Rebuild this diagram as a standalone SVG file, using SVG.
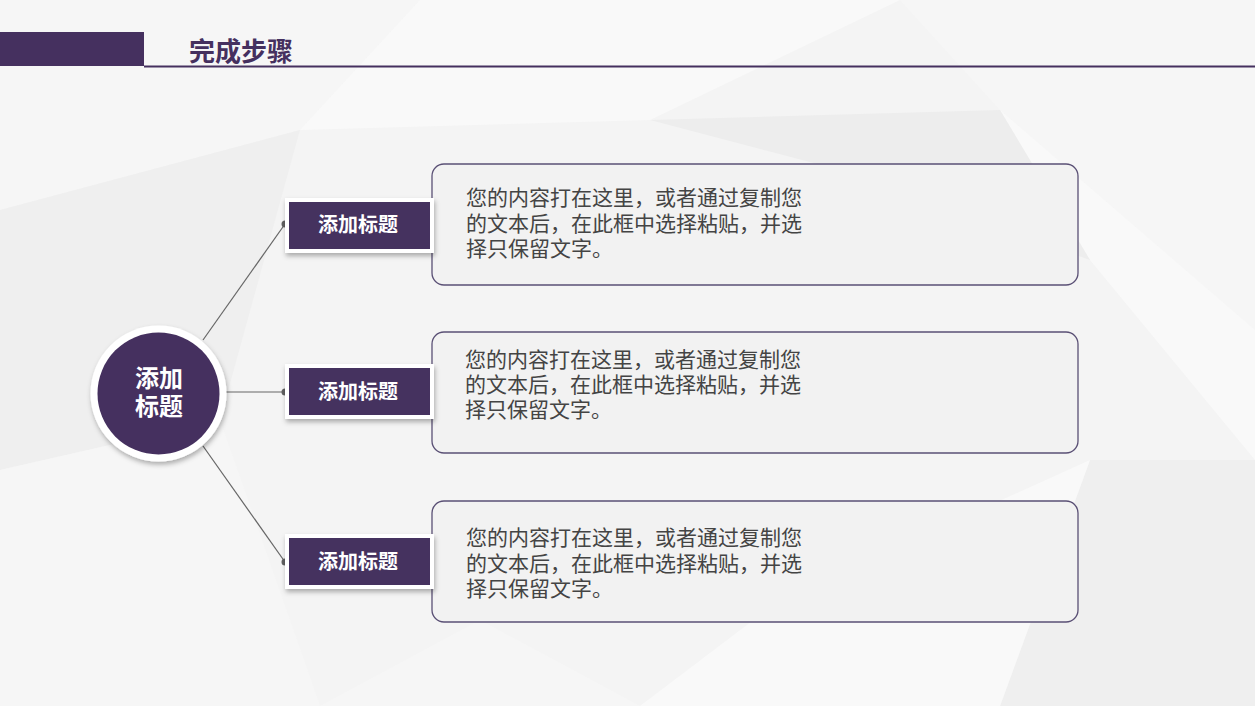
<svg xmlns="http://www.w3.org/2000/svg" width="1255" height="706" viewBox="0 0 1255 706">
<defs>
<style>
.bg1{fill:#efefef}.bg2{fill:#f6f6f6}.bg3{fill:#f9f9f9}.bg4{fill:#ededed}
.conn{stroke:#666;stroke-width:1.2;fill:none}
.dot{fill:#5f5f5f}
.lbl{fill:#45305f;stroke:#fff;stroke-width:4}
.lbltxt{font-family:"Noto Sans CJK SC",sans-serif;font-weight:bold;font-size:20px;fill:#fff;text-anchor:middle}
.box{fill:#f2f2f2;stroke:#5a5075;stroke-width:1.3}
.body{font-family:"Noto Sans CJK SC",sans-serif;font-size:21px;fill:#444}
</style>
<filter id="sh" x="-20%" y="-20%" width="140%" height="150%">
<feDropShadow dx="1" dy="3" stdDeviation="2.5" flood-color="#000" flood-opacity="0.3"/>
</filter>
</defs>
<g id="background">
<rect width="1255" height="706" fill="#f4f4f4"/>
<polygon class="bg2" points="0,0 420,0 300,130 0,210"/>
<polygon class="bg3" points="420,0 900,0 650,120 300,130"/>
<polygon class="bg1" points="0,210 300,130 220,420 0,470"/>
<polygon class="bg2" points="900,0 1255,0 1255,330 1000,110"/>
<polygon class="bg3" points="1000,110 1255,330 1255,460 1090,260"/>
<polygon class="bg4" points="650,120 1000,110 1090,260 840,170"/>
<polygon class="bg2" points="0,470 220,420 320,706 0,706"/>
<polygon class="bg1" points="1090,460 1255,460 1255,706 1000,706"/>
<polygon class="bg3" points="780,600 1090,460 1000,706 640,706"/>
<polygon class="bg2" points="320,706 640,706 480,620"/>
</g>
<g id="header">
<rect x="0" y="32" width="144" height="34" fill="#45305f"/>
<rect x="144" y="65.5" width="1111" height="2" fill="#45305f"/>
<text x="189" y="61" font-family="Noto Sans CJK SC, sans-serif" font-weight="bold" font-size="26" fill="#45305f">完成步骤</text>
</g>
<g id="connectors">
<line class="conn" x1="203" y1="340" x2="285" y2="224"/>
<line class="conn" x1="226" y1="392" x2="285" y2="392"/>
<line class="conn" x1="203" y1="446" x2="285" y2="562"/>
<circle class="dot" cx="285" cy="224" r="3.5"/>
<circle class="dot" cx="285" cy="392" r="3.5"/>
<circle class="dot" cx="285" cy="562" r="3.5"/>
</g>
<g id="center">
<circle cx="158.5" cy="393.5" r="68" fill="#fff" filter="url(#sh)"/>
<circle cx="158.5" cy="393.5" r="61" fill="#45305f"/>
<text font-family="Noto Sans CJK SC, sans-serif" font-weight="bold" font-size="24" fill="#fff" text-anchor="middle"><tspan x="159" y="387">添加</tspan><tspan x="159" y="415">标题</tspan></text>
</g>
<g id="box1">
<rect class="box" x="432" y="164" width="646" height="121" rx="12"/>
<text class="body"><tspan x="466" y="205">您的内容打在这里，或者通过复制您</tspan><tspan x="466" y="231">的文本后，在此框中选择粘贴，并选</tspan><tspan x="466" y="256">择只保留文字。</tspan></text>
</g>
<g id="box2">
<rect class="box" x="432" y="332" width="646" height="121" rx="12"/>
<text class="body"><tspan x="465" y="367">您的内容打在这里，或者通过复制您</tspan><tspan x="465" y="392">的文本后，在此框中选择粘贴，并选</tspan><tspan x="465" y="417">择只保留文字。</tspan></text>
</g>
<g id="box3">
<rect class="box" x="432" y="501" width="646" height="121" rx="12"/>
<text class="body"><tspan x="466" y="545">您的内容打在这里，或者通过复制您</tspan><tspan x="466" y="571">的文本后，在此框中选择粘贴，并选</tspan><tspan x="466" y="596">择只保留文字。</tspan></text>
</g>
<g id="label1">
<rect class="lbl" x="287" y="200" width="145" height="51" filter="url(#sh)"/>
<text class="lbltxt" x="358" y="232">添加标题</text>
</g>
<g id="label2">
<rect class="lbl" x="287" y="366" width="145" height="51" filter="url(#sh)"/>
<text class="lbltxt" x="358" y="399">添加标题</text>
</g>
<g id="label3">
<rect class="lbl" x="287" y="536" width="145" height="51" filter="url(#sh)"/>
<text class="lbltxt" x="358" y="569">添加标题</text>
</g>
</svg>
